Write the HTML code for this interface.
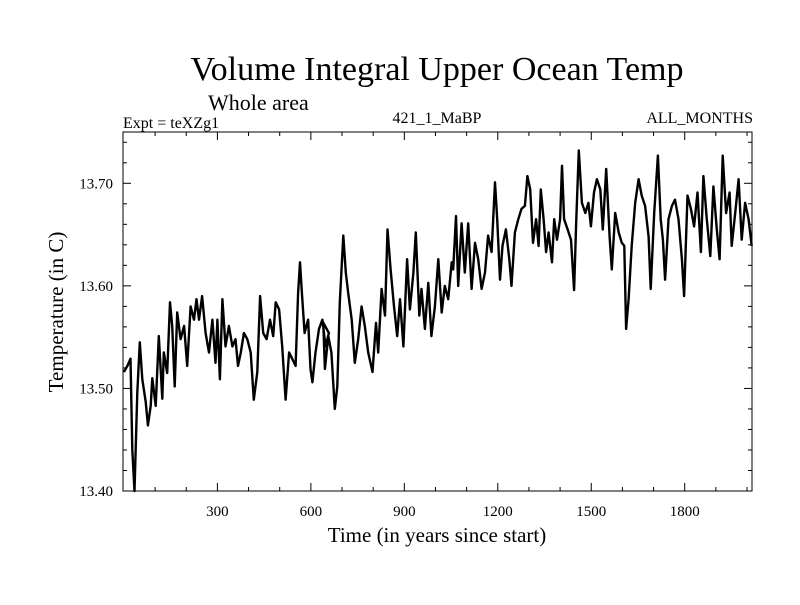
<!DOCTYPE html>
<html><head><meta charset="utf-8"><style>
body{margin:0;background:#fff}
svg text{font-family:"Liberation Serif",serif;fill:#000}
</style></head><body>
<svg id="chart" width="800" height="600">
<rect width="800" height="600" fill="#fff"/>
<text x="437" y="80" font-size="34" text-anchor="middle">Volume Integral Upper Ocean Temp</text>
<text x="208" y="110" font-size="22">Whole area</text>
<text x="123" y="128" font-size="16">Expt = teXZg1</text>
<text x="437" y="123" font-size="16" text-anchor="middle">421_1_MaBP</text>
<text x="753" y="123" font-size="16" text-anchor="end">ALL_MONTHS</text>
<text x="437" y="542" font-size="21" text-anchor="middle">Time (in years since start)</text>
<text transform="translate(63,312) rotate(-90)" font-size="21" text-anchor="middle">Temperature (in C)</text>
<g id="axes"></g>
<path id="series" fill="none" stroke="#000" stroke-width="2.4" stroke-linejoin="round"/>
<rect x="123" y="132" width="629" height="359" fill="none" stroke="#000" stroke-width="1"/>
</svg>
<script>
const years=[0,11,21,27,34,43,51,59,70,77,86,91,102,112,123,128,139,148,155,163,171,182,193,203,214,225,233,241,251,262,273,284,294,300,308,316,326,337,348,358,366,375,385,396,407,417,428,437,447,458,469,479,487,498,508,519,530,540,551,559,565,572,580,591,599,605,615,626,637,647,658,
640,645,656,666,677,685,693,704,712,720,731,741,752,763,773,784,798,809,816,827,838,846,856,867,877,886,897,909,918,929,937,948,955,966,977,987,998,1009,1020,1030,1041,1052,1057,1066,1073,1084,1094,1105,1116,1127,1137,1148,1159,1169,1180,1191,1198,1207,1215,1226,1237,1244,1255,1266,1276,1287,1295,
1304,1313,1323,1331,1338,1347,1355,1363,1374,1381,1390,1400,1406,1413,1424,1435,1445,1452,1460,1470,1481,1491,1499,1509,1518,1529,1537,1548,1559,1566,1577,1588,1598,1606,1612,1620,1630,1641,1652,1662,1673,1684,1691,1702,1714,1723,1730,1737,1748,1759,1769,1780,1791,1798,1809,1820,1830,1841,1852,1860,1871,1882,1892,1903,1912,1922,1933,1944,1951,1962,1973,1983,1994,2005,2015];
const temps=[13.516,13.522,13.529,13.44,13.40,13.496,13.545,13.509,13.487,13.464,13.483,13.51,13.483,13.551,13.49,13.535,13.515,13.584,13.561,13.502,13.574,13.548,13.561,13.522,13.58,13.567,13.587,13.567,13.59,13.554,13.535,13.567,13.525,13.567,13.509,13.587,13.541,13.561,13.541,13.548,13.522,13.535,13.554,13.548,13.535,13.489,13.516,13.59,13.554,13.548,13.567,13.551,13.584,13.577,13.541,13.489,13.535,13.529,13.522,13.593,13.623,13.59,13.554,13.567,13.519,13.506,13.535,13.558,13.567,13.541,13.554,
13.564,13.519,13.551,13.535,13.48,13.502,13.584,13.649,13.613,13.593,13.567,13.525,13.548,13.58,13.561,13.535,13.516,13.564,13.535,13.597,13.571,13.655,13.616,13.58,13.551,13.587,13.541,13.626,13.577,13.613,13.652,13.571,13.597,13.558,13.603,13.551,13.58,13.626,13.574,13.60,13.587,13.623,13.616,13.668,13.60,13.661,13.613,13.661,13.597,13.642,13.626,13.597,13.613,13.649,13.633,13.701,13.665,13.606,13.639,13.655,13.626,13.60,13.652,13.665,13.675,13.678,13.707,
13.694,13.642,13.665,13.639,13.694,13.665,13.633,13.652,13.623,13.665,13.645,13.665,13.717,13.665,13.655,13.645,13.596,13.665,13.732,13.681,13.671,13.681,13.658,13.691,13.704,13.694,13.655,13.714,13.648,13.616,13.671,13.652,13.642,13.639,13.558,13.587,13.639,13.681,13.704,13.688,13.678,13.648,13.597,13.671,13.727,13.665,13.645,13.606,13.665,13.678,13.684,13.665,13.626,13.590,13.688,13.675,13.658,13.691,13.633,13.707,13.665,13.629,13.697,13.655,13.626,13.727,13.671,13.691,13.639,13.671,13.704,13.645,13.681,13.665,13.639];
const xTickLabels=[300,600,900,1200,1500,1800];
const yTickLabels=["13.40","13.50","13.60","13.70"];
const X0=123,X1=752,Y0=491,Y1=132,XMIN=-3,XMAX=2016,YMIN=13.40,YMAX=13.75;
const sx=v=>X0+(v-XMIN)/(XMAX-XMIN)*(X1-X0);
const sy=v=>Y0-(v-YMIN)/(YMAX-YMIN)*(Y0-Y1);
const NS="http://www.w3.org/2000/svg";
const g=document.getElementById('axes');
function line(x1,y1,x2,y2,name){const l=document.createElementNS(NS,'line');l.setAttribute('x1',x1);l.setAttribute('y1',y1);l.setAttribute('x2',x2);l.setAttribute('y2',y2);l.setAttribute('stroke','#000');l.setAttribute('stroke-width','1');


g.appendChild(l);}
function text(x,y,s,anchor,name){const t=document.createElementNS(NS,'text');t.setAttribute('x',x);t.setAttribute('y',y);t.setAttribute('font-size','15');t.setAttribute('text-anchor',anchor);t.textContent=s;


g.appendChild(t);}
for(let v=100;v<XMAX;v+=100){const x=sx(v);const len=(v%300===0)?8:4;line(x,Y0,x,Y0-len,'x-tick');line(x,Y1,x,Y1+len,'x-tick-top');}
for(let i=0;i<=17;i++){const v=YMIN+i*0.02;const y=sy(v);const major=(i%5===0);const len=major?8:4;line(X0,y,X0+len,y,'y-tick');line(X1,y,X1-len,y,'y-tick-right');}
xTickLabels.forEach(v=>text(sx(v),516,String(v),'middle','x-tick-label'));
yTickLabels.forEach(s=>text(113,sy(parseFloat(s))+5,s,'end','y-tick-label'));
let d='';years.forEach((yr,i)=>{d+=(i?'L':'M')+sx(yr).toFixed(1)+','+sy(temps[i]).toFixed(1);});
document.getElementById('series').setAttribute('d',d);
</script>
</body></html>
